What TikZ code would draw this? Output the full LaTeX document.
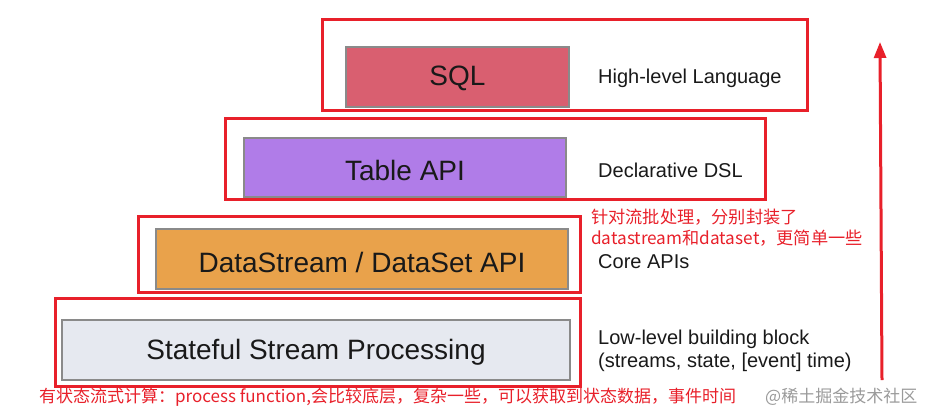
\documentclass[tikz,border=0pt]{standalone}
\usepackage{fontspec}
\setmainfont{Liberation Sans}
\newfontfamily\cjk{Noto Sans CJK SC}
\usetikzlibrary{arrows.meta}
\definecolor{frameRed}{HTML}{E8202A}
\definecolor{sqlFill}{HTML}{D95F70}
\definecolor{tableFill}{HTML}{B07CE8}
\definecolor{dsFill}{HTML}{E9A24B}
\definecolor{ssFill}{HTML}{E6E9F0}
\definecolor{boxBorder}{HTML}{8A8A8A}
\definecolor{wmGray}{HTML}{9A9A9A}
\tikzset{
  redframe/.style={draw=frameRed, line width=3pt},
  layerbox/.style={draw=boxBorder, line width=1.2pt},
  boxlabel/.style={font=\fontsize{28}{32}\selectfont, text=black!90, inner sep=0pt},
  sidelabel/.style={font=\fontsize{20}{24}\selectfont, text=black!90, anchor=west, inner sep=0pt, align=left},
  note/.style={font=\cjk\fontsize{17.2}{24}\selectfont, text=frameRed, anchor=west, inner sep=0pt, align=left},
}
\begin{document}
\begin{tikzpicture}[x=1pt,y=-1pt]
\useasboundingbox (0,0) rectangle (939,418);
% red frames
\draw[redframe] (322,19) rectangle (807,110);
\draw[redframe] (225,118) rectangle (765,199);
\draw[redframe] (138,216) rectangle (580,292);
\draw[redframe] (55,298) rectangle (580,386);
% layer boxes
\draw[layerbox, fill=sqlFill] (346,47) rectangle (569,107);
\node[boxlabel] (sql) at (457.5,78.5) {SQL};
\draw[layerbox, fill=tableFill] (244,138) rectangle (566,197);
\node[boxlabel] (table) at (405,170) {Table API};
\draw[layerbox, fill=dsFill] (156,229) rectangle (568,289);
\node[boxlabel] (ds) at (362,262) {DataStream / DataSet API};
\draw[layerbox, fill=ssFill] (62,320) rectangle (570,380);
\node[boxlabel] (ss) at (316,352.5) {Stateful Stream Processing};
% side labels
\node[sidelabel] (hl) at (598,78) {High-level Language};
\node[sidelabel] (dsl) at (598,170) {Declarative DSL};
\node[sidelabel] (core) at (598,262) {Core APIs};
\node[sidelabel] (low) at (598,350.5) {Low-level building block\\[-1pt](streams, state, [event] time)};
% notes
\node[note] (n1) at (591,228) {针对流批处理，分别封装了\\[-3pt]datastream和dataset，更简单一些};
\node[note, font=\cjk\fontsize{17}{20}\selectfont] (n2) at (39,397) {有状态流式计算：process function,会比较底层，复杂一些，可以获取到状态数据，事件时间};
\node[note, text=wmGray, font=\cjk\fontsize{17}{20}\selectfont] (wm) at (765,397) {@稀土掘金技术社区};
% arrow
\coordinate (abot) at (882,380);
\coordinate (atop) at (880,42);
\draw[frameRed, line width=3pt, -{Triangle[length=16pt,width=12pt]}] (abot) -- (atop);
\end{tikzpicture}
\end{document}
